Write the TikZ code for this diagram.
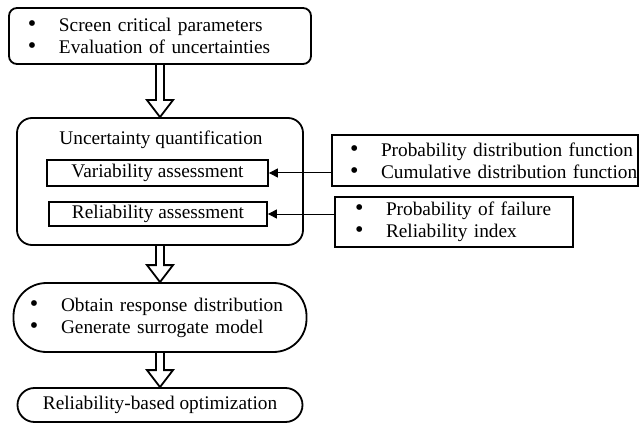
\documentclass[tikz,border=0pt]{standalone}
\usepackage{fontspec}
\setmainfont{Liberation Serif}
\usetikzlibrary{arrows.meta,calc}

\newlength{\bulindent}
\tikzset{
  box/.style={draw, line width=1.8pt, inner sep=0pt, align=left},
  listbox/.style 2 args={box, text width=#1, inner xsep=0pt, indent=#2},
  indent/.code={\setlength{\bulindent}{#1}},
  conn/.style={line width=1pt, -{Triangle[length=9pt,width=9pt]}},
  fat/.style={line width=1.8pt, line join=miter}
}
\newcommand{\bul}[1]{\hspace*{\bulindent}\makebox[31pt][l]{\scalebox{1.25}{\textbullet}}#1}
\newcommand{\fatarrow}[2]{%
  \draw[fat] ($(#1)+(-4,0)$) -- ($(#2)+(-4,-17)$) -- ($(#2)+(-13,-17)$) -- (#2)
    -- ($(#2)+(13,-17)$) -- ($(#2)+(4,-17)$) -- ($(#1)+(4,0)$);}

\begin{document}
\begin{tikzpicture}[x=1pt, y=-1pt, font=\fontsize{19.3}{22}\selectfont]
  \useasboundingbox (0,0) rectangle (640,425);
  \node[listbox={302pt}{19pt}, rounded corners=8pt, minimum height=56pt] (top) at (160,36)
    {\bul{Screen critical parameters}\\ \bul{Evaluation of uncertainties}};
  \node[box, rounded corners=15pt, minimum width=286pt, minimum height=127pt] (uq) at (160,181.5) {};
  \node (uqtitle) at (161,140) {Uncertainty quantification};
  \node[box, minimum width=221pt, minimum height=26pt] (var) at (157.5,173) {Variability assessment};
  \node[box, minimum width=218pt, minimum height=24pt] (rel) at (158,214) {Reliability assessment};
  \node[listbox={306pt}{18pt}, minimum height=51pt] (pdf) at (485,160.5)
    {\bul{Probability distribution function}\\ \bul{Cumulative distribution function}};
  \node[listbox={238pt}{20pt}, minimum height=50pt] (pof) at (454,222)
    {\bul{Probability of failure}\\ \bul{Reliability index}};
  \node[listbox={293pt}{16.5pt}, rounded corners=33pt, minimum height=69pt] (resp) at (160,317.5)
    {\bul{Obtain response distribution}\\ \bul{Generate surrogate model}};
  \node[box, rounded corners=17pt, minimum width=285pt, minimum height=34pt] (opt) at (160,405)
    {Reliability-based optimization};

  \draw[conn] (pdf.west |- var.east) -- (var.east);
  \draw[conn] (pof.west |- rel.east) -- (rel.east);
  \fatarrow{top.south}{uq.north}
  \fatarrow{uq.south}{resp.north}
  \fatarrow{resp.south}{opt.north}
\end{tikzpicture}
\end{document}
